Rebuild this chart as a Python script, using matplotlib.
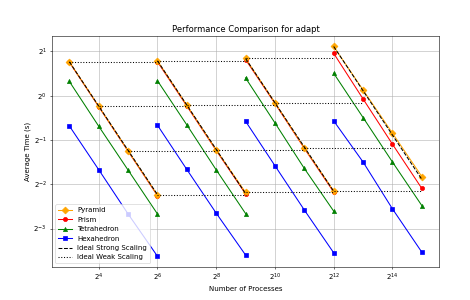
import numpy as np
import matplotlib
matplotlib.use("Agg")
import matplotlib.pyplot as plt

# four weak-scaling groups, each run at 4 process counts (x8 between groups)
procs = [
    [8, 16, 32, 64],
    [64, 128, 256, 512],
    [512, 1024, 2048, 4096],
    [4096, 8192, 16384, 32768],
]

pyramid = [
    [1.70, 0.847, 0.422, 0.211],
    [1.727, 0.861, 0.428, 0.220],
    [1.79, 0.896, 0.442, 0.225],
    [2.16, 1.093, 0.556, 0.282],
]
prism = [
    [1.69, 0.842, 0.419, 0.209],
    [1.70, 0.850, 0.424, 0.215],
    [1.76, 0.885, 0.438, 0.221],
    [1.94, 0.950, 0.468, 0.234],
]
tetrahedron = [
    [1.25, 0.62, 0.312, 0.157],
    [1.264, 0.633, 0.313, 0.158],
    [1.32, 0.653, 0.320, 0.164],
    [1.42, 0.71, 0.354, 0.179],
]
hexahedron = [
    [0.623, 0.314, 0.157, 0.081],
    [0.630, 0.315, 0.159, 0.0825],
    [0.670, 0.334, 0.167, 0.0854],
    [0.674, 0.354, 0.170, 0.0863],
]

x_ticks = [2**4, 2**6, 2**8, 2**10, 2**12, 2**14]
y_ticks = [2**-3, 2**-2, 2**-1, 2**0, 2**1]

fig, ax = plt.subplots(figsize=(9.4, 6.0), dpi=50)
fig.subplots_adjust(left=0.11, right=0.935, top=0.88, bottom=0.111)

series = [
    ("Prism", prism, "red", "o", 6, 2),
    ("Pyramid", pyramid, "orange", "D", 7, 3),
    ("Tetrahedron", tetrahedron, "green", "^", 6, 2),
    ("Hexahedron", hexahedron, "blue", "s", 6, 2),
]
handles = {}
for name, data, color, marker, ms, z in series:
    for i, (p, t) in enumerate(zip(procs, data)):
        line, = ax.plot(p, t, color=color, marker=marker, markersize=ms, zorder=z,
                        label=name if i == 0 else None)
        if i == 0:
            handles[name] = line

# ideal strong scaling: halve time each time processes double (from pyramid base)
for i, (p, t) in enumerate(zip(procs, pyramid)):
    p = np.array(p)
    ideal = t[0] * p[0] / p
    line, = ax.plot(p, ideal, "k--", linewidth=1.5, zorder=4,
                    label="Ideal Strong Scaling" if i == 0 else None)
    if i == 0:
        handles["Ideal Strong Scaling"] = line

# ideal weak scaling: same time when processes and work grow 8x
for i in range(len(procs) - 1):
    for j in range(len(procs[i])):
        line, = ax.plot([procs[i][j], procs[i + 1][j]], [pyramid[i][j], pyramid[i][j]],
                        "k:", linewidth=1.5, zorder=4,
                        label="Ideal Weak Scaling" if (i == 0 and j == 0) else None)
        if i == 0 and j == 0:
            handles["Ideal Weak Scaling"] = line

ax.set_xscale("log", base=2)
ax.set_yscale("log", base=2)
ax.set_xticks(x_ticks)
ax.set_yticks(y_ticks)
ax.minorticks_off()

ax.set_title("Performance Comparison for adapt")
ax.set_xlabel("Number of Processes")
ax.set_ylabel("Average Time (s)")
ax.grid(True)

order = ["Pyramid", "Prism", "Tetrahedron", "Hexahedron",
         "Ideal Strong Scaling", "Ideal Weak Scaling"]
ax.legend([handles[k] for k in order], order, loc="lower left")

fig.savefig("out.png", dpi=50)
